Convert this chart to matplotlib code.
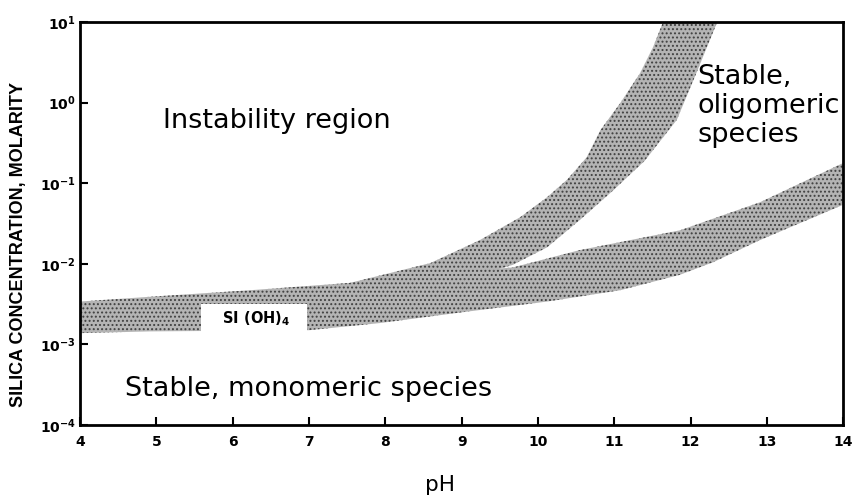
import numpy as np
import matplotlib
matplotlib.use('Agg')
import matplotlib.pyplot as plt
from matplotlib import rcParams
rcParams['font.family'] = ['DejaVu Sans']
rcParams['hatch.linewidth'] = 0.9

# lower band (monomer solubility, continues to pH 14)
low_ph_top = [4.0, 4.92, 6.23, 7.54, 8.59, 9.67, 10.55, 11.86, 12.91, 14.0]
low_c_top = [3.4e-3, 3.9e-3, 4.7e-3, 5.8e-3, 7.5e-3, 9.0e-3, 1.48e-2, 2.6e-2, 5.8e-2, 1.78e-1]
low_ph_bot = [4.0, 4.92, 7.0, 7.93, 9.0, 10.12, 11.08, 11.86, 12.3, 12.91, 14.0]
low_c_bot = [1.38e-3, 1.45e-3, 1.5e-3, 1.84e-3, 2.5e-3, 3.4e-3, 4.7e-3, 7.3e-3, 1.05e-2, 1.97e-2, 5.4e-2]

# upper branch (oligomeric boundary)
up_ph_left = [7.54, 8.59, 9.24, 9.77, 10.12, 10.38, 10.64, 10.82, 11.08, 11.34, 11.51, 11.64]
up_c_left = [5.8e-3, 1.02e-2, 1.97e-2, 3.8e-2, 6.7e-2, 1.1e-1, 2.1e-1, 4.57e-1, 0.99, 2.33, 4.9, 10.0]
up_ph_right = [12.35, 12.09, 11.82, 11.4, 10.99, 10.55, 10.12, 9.67, 8.5, 7.54]
up_c_right = [10.0, 2.5, 6.1e-1, 1.9e-1, 8.2e-2, 3.5e-2, 1.6e-2, 9.7e-3, 4.5e-3, 4.0e-3]

x_ticks = [4, 5, 6, 7, 8, 9, 10, 11, 12, 13, 14]
y_ticks = [1e-4, 1e-3, 1e-2, 1e-1, 1e0, 1e1]
y_labels = [r'$\mathbf{10^{-4}}$', r'$\mathbf{10^{-3}}$', r'$\mathbf{10^{-2}}$',
            r'$\mathbf{10^{-1}}$', r'$\mathbf{10^{0}}$', r'$\mathbf{10^{1}}$']

fig = plt.figure(figsize=(8.56, 5.0), dpi=100)
ax = fig.add_axes([0.0935, 0.15, 0.8915, 0.806])

band_style = dict(facecolor='#b4b4b4', edgecolor='#404040', hatch='....', linewidth=0)
ax.fill(low_ph_top + low_ph_bot[::-1], low_c_top + low_c_bot[::-1], **band_style)
ax.fill(up_ph_left + up_ph_right, up_c_left + up_c_right, **band_style)

ax.set_yscale('log')
ax.set_xlim(4, 14)
ax.set_ylim(1e-4, 1e1)
ax.set_xticks(x_ticks)
ax.set_xticklabels([str(t) for t in x_ticks], fontweight='bold', fontsize=10)
ax.set_yticks(y_ticks)
ax.set_yticklabels(y_labels, fontsize=10)
ax.minorticks_off()
ax.tick_params(axis='both', direction='in', length=6, width=1.5)
ax.tick_params(axis='x', pad=7)
ax.tick_params(axis='y', pad=3)
for s in ax.spines.values():
    s.set_linewidth(2)

ax.set_ylabel('SILICA CONCENTRATION, MOLARITY', fontweight='bold', fontsize=13,
              family='Liberation Sans')
ax.yaxis.set_label_coords(-0.0695, 0.447)
ax.set_xlabel('pH', fontsize=15.5)
ax.xaxis.set_label_coords(0.472, -0.125)

ax.text(5.09, 0.59, 'Instability region', fontsize=19.5, va='center', ha='left')
ax.text(4.59, 2.8e-4, 'Stable, monomeric species', fontsize=19.5, va='center', ha='left')
ax.text(12.09, 0.91, 'Stable,\noligomeric\nspecies', fontsize=19.5, va='center', ha='left',
        linespacing=1.15)
ax.text(6.28, 2.1e-3, r'   SI (OH)$_\mathbf{4}$   ', fontsize=10.5, fontweight='bold',
        va='center', ha='center',
        bbox=dict(facecolor='white', edgecolor='none', pad=4))

fig.savefig('out.png', dpi=100)
